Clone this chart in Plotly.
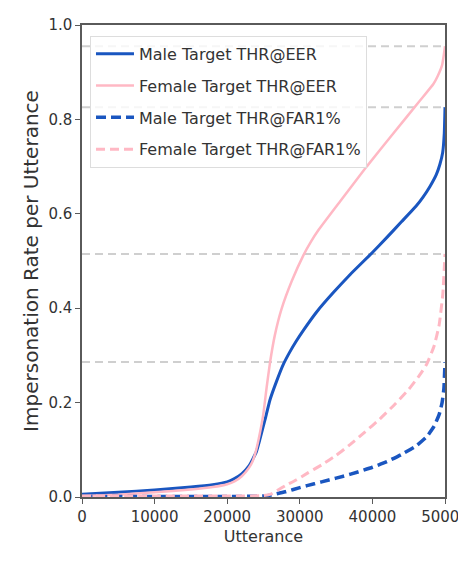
import plotly.graph_objects as go

# ---- data ----
male_eer_x = [0, 5000, 10000, 15000, 18000, 20000, 21000, 22000, 23000, 24000, 24500, 25210,
              25900, 26820, 27730, 28650, 29500, 30490, 32320, 34620, 36910, 40000, 42000, 44000,
              46000, 47000, 47930, 48800, 49300, 49680, 49900, 50000]
male_eer_y = [0.006, 0.010, 0.015, 0.021, 0.026, 0.032, 0.039, 0.049, 0.066, 0.095, 0.122, 0.164,
              0.206, 0.246, 0.281, 0.308, 0.330, 0.353, 0.392, 0.433, 0.471, 0.518, 0.550, 0.583,
              0.616, 0.636, 0.658, 0.683, 0.705, 0.730, 0.770, 0.826]

female_eer_x = [0, 5000, 10000, 15000, 18000, 20000, 21000, 22000, 23000, 23500, 24000, 24500,
                24970, 25440, 25900, 26580, 27500, 28880, 30490, 31500, 32550, 35540, 39210, 42870,
                46560, 48400, 49000, 49600, 49850, 50000]
female_eer_y = [0.002, 0.005, 0.010, 0.016, 0.021, 0.027, 0.033, 0.044, 0.062, 0.076, 0.100, 0.135,
                0.175, 0.233, 0.285, 0.344, 0.399, 0.457, 0.512, 0.540, 0.565, 0.626, 0.700, 0.770,
                0.840, 0.875, 0.892, 0.915, 0.938, 0.955]

female_far_x = [0, 10000, 20000, 25000, 26000, 27000, 28000, 29500, 31000, 33000, 35000, 37000,
                39000, 41000, 43000, 45000, 46500, 47500, 48500, 49200, 49700, 50000]
female_far_y = [0.002, 0.002, 0.002, 0.003, 0.006, 0.015, 0.024, 0.036, 0.050, 0.068, 0.088, 0.112,
                0.138, 0.165, 0.195, 0.228, 0.258, 0.282, 0.320, 0.365, 0.430, 0.515]

male_far_x = [0, 20000, 25000, 26000, 28000, 30000, 32000, 34000, 36000, 38000, 40000, 42000,
              44000, 46000, 47500, 48500, 49200, 49600, 49850, 50000]
male_far_y = [0.001, 0.001, 0.002, 0.004, 0.011, 0.020, 0.028, 0.036, 0.044, 0.053, 0.063, 0.075,
              0.090, 0.108, 0.128, 0.150, 0.175, 0.200, 0.230, 0.286]

x_ticks = [0, 10000, 20000, 30000, 40000, 50000]
y_ticks = [0.0, 0.2, 0.4, 0.6, 0.8, 1.0]

BLUE = "#1a56c0"
PINK = "#ffb8c4"
FONT = "DejaVu Sans"

fig = go.Figure()

series = [
    ("Male Target THR@EER", male_eer_x, male_eer_y, BLUE, 3, "solid"),
    ("Female Target THR@EER", female_eer_x, female_eer_y, PINK, 2.5, "solid"),
    ("Male Target THR@FAR1%", male_far_x, male_far_y, BLUE, 3.5, "10px,5px"),
    ("Female Target THR@FAR1%", female_far_x, female_far_y, PINK, 3, "9px,5px"),
]

# gray dashed reference lines at the maximum of each curve
for _, xs, ys, _, _, _ in series:
    fig.add_shape(type="line", xref="x", yref="y", x0=0, x1=50000,
                  y0=max(ys), y1=max(ys), layer="below",
                  line=dict(color="#cfcfcf", width=2, dash="8px,5px"))

for i, (name, xs, ys, col, w, dash) in enumerate(series):
    fig.add_trace(go.Scatter(x=xs, y=ys, mode="lines", name=name, legendgroup=str(i),
                             line=dict(color=col, width=w, dash=dash, shape="spline",
                                       smoothing=0.4)))

axis_common = dict(showgrid=False, zeroline=False, mirror=True, showline=True,
                   linecolor="#5a5a5a", linewidth=1.5, ticks="outside", ticklen=5,
                   tickcolor="#5a5a5a", ticklabeloverflow="allow",
                   tickfont=dict(family=FONT, size=15, color="#333"))

fig.update_xaxes(range=[0, 50000], tickvals=x_ticks, ticktext=[str(v) for v in x_ticks],
                 title=dict(text="Utterance", font=dict(family=FONT, size=16, color="#333"),
                            standoff=6),
                 **axis_common)
fig.update_yaxes(range=[0, 1.0], tickvals=y_ticks, ticktext=[f"{v:.1f}" for v in y_ticks],
                 title=dict(text="Impersonation Rate per Utterance",
                            font=dict(family=FONT, size=20, color="#333"), standoff=4),
                 **axis_common)

# the page body has an 8px margin, so the figure is 8px smaller and margins shifted
fig.update_layout(
    width=458, height=560,
    margin=dict(l=74, r=21, t=17, b=71, autoexpand=False),
    plot_bgcolor="white", paper_bgcolor="white",
    font=dict(family=FONT, color="#333"),
    legend=dict(x=0.022, y=0.977, xanchor="left", yanchor="top",
                bgcolor="rgba(255,255,255,0.8)", bordercolor="#dddddd", borderwidth=1,
                font=dict(family=FONT, size=16, color="#333"),
                itemwidth=38, tracegroupgap=8),
)

fig.write_html("out.html")
